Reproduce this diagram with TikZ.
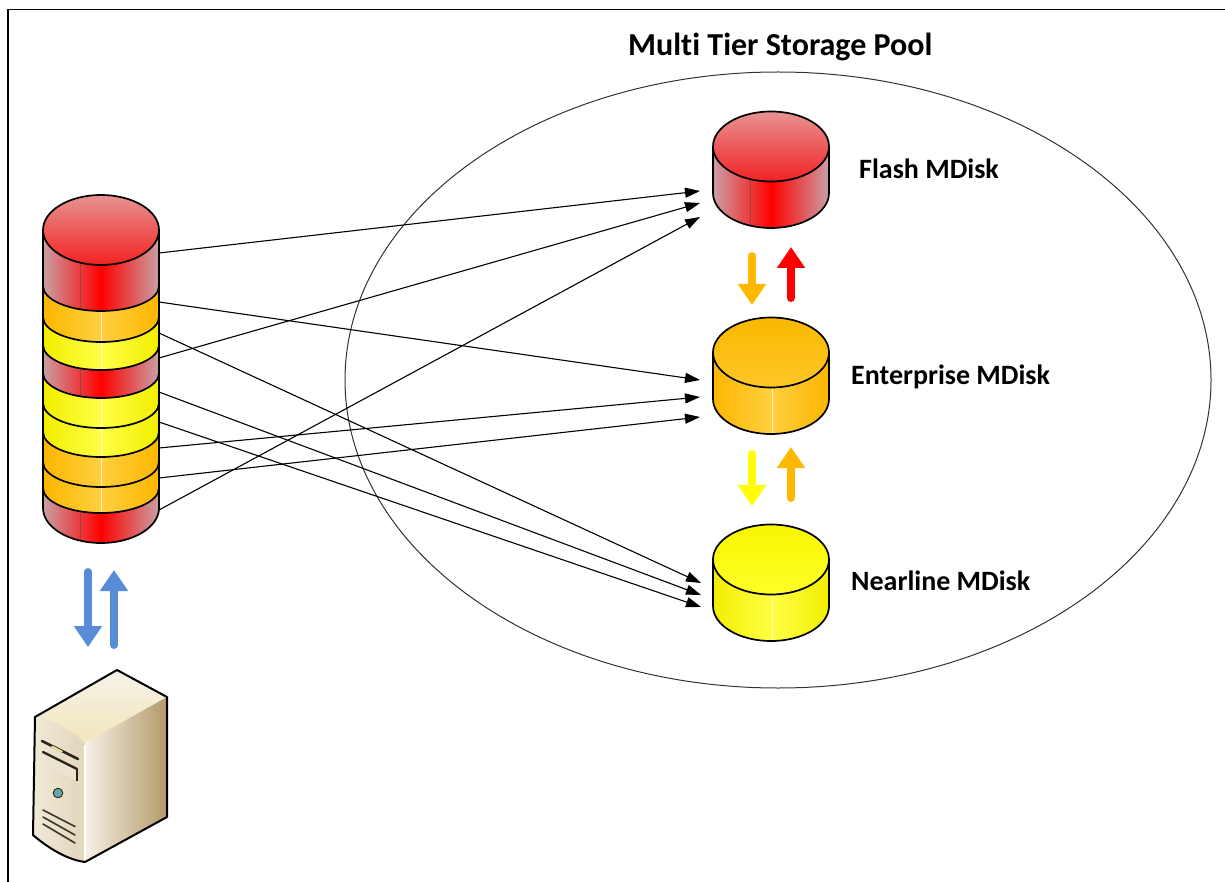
\documentclass[tikz,border=0pt]{standalone}
\usepackage{fontspec}
\setmainfont{Carlito}[Ligatures=NoCommon]
\usetikzlibrary{arrows.meta,shapes.geometric}

% disk colours
\definecolor{redEdge}{RGB}{201,160,165}
\definecolor{redMid}{RGB}{255,0,0}
\definecolor{redTopA}{RGB}{232,146,146}
\definecolor{redTopB}{RGB}{242,34,34}
\definecolor{redLine}{RGB}{150,60,60}
\definecolor{orEdge}{RGB}{252,182,0}
\definecolor{orMid}{RGB}{255,208,64}
\definecolor{orTopA}{RGB}{250,184,0}
\definecolor{orTopB}{RGB}{253,198,40}
\definecolor{yeEdge}{RGB}{242,238,0}
\definecolor{yeMid}{RGB}{255,255,70}
\definecolor{yeTopA}{RGB}{248,246,0}
\definecolor{yeTopB}{RGB}{255,255,40}
% arrows
\definecolor{flowBlue}{RGB}{88,140,214}
\definecolor{flowOrange}{RGB}{255,184,0}
\definecolor{flowRed}{RGB}{255,0,0}
\definecolor{flowYellow}{RGB}{255,255,0}
% server
\definecolor{srvTopA}{RGB}{246,242,234}
\definecolor{srvTopB}{RGB}{242,230,186}
\definecolor{srvFrontA}{RGB}{240,233,216}
\definecolor{srvFrontB}{RGB}{226,214,186}
\definecolor{srvSideA}{RGB}{247,241,229}
\definecolor{srvSideB}{RGB}{178,154,106}
\definecolor{slotDark}{RGB}{40,36,30}
\definecolor{slotLight}{RGB}{236,228,206}
\definecolor{slotHi}{RGB}{245,236,150}
\definecolor{buttonTeal}{RGB}{96,170,172}
\definecolor{ventDark}{RGB}{60,54,44}
\definecolor{poolLine}{RGB}{50,50,50}

\begin{document}
\begin{tikzpicture}[x=1pt,y=-1pt,
  outline/.style={draw=black,line width=1.7pt,line join=round},
  lbl/.style={font=\bfseries\fontsize{28}{32}\selectfont,inner sep=0pt,anchor=base west},
  link/.style={line width=1.1pt,-{Triangle[length=15pt,width=10pt]}},
  flow/.style={line width=8pt,line cap=round,-{Triangle[length=21pt,width=27pt]}}]
\useasboundingbox (0,0) rectangle (1225,882);

% frame
\draw[line width=1.3pt] (8,882) -- (8,9.5) -- (1225,9.5);

% storage pool
\node (pool) [draw=poolLine,line width=1pt,ellipse,minimum width=866pt,minimum height=616pt,inner sep=0pt] at (778,380) {};
\node (title) [lbl,font=\bfseries\fontsize{32}{36}\selectfont] at (628,55.5) {Multi Tier Storage Pool};

% ---- volume stack (bands painted top to bottom, each reaching the base)
\foreach \yt/\ce/\cm/\lx/\lc in {
  230/redEdge/redMid/80/redLine,
  286/orEdge/orMid/101/white,
  317/yeEdge/yeMid/101/white,
  345/redEdge/redMid/80/redLine,
  373/yeEdge/yeMid/101/white,
  403/yeEdge/yeMid/101/white,
  432/orEdge/orMid/101/white,
  462/orEdge/orMid/101/white,
  488/redEdge/redMid/80/redLine}
{
  \begin{scope}
    \clip (43,\yt) arc[start angle=180,end angle=360,x radius=58pt,y radius=25pt]
      -- (159,508) arc[start angle=0,end angle=-180,x radius=58pt,y radius=35pt] -- cycle;
    \shade[left color=\ce,right color=\ce,middle color=\cm] (43,\yt-40) rectangle (159,560);
    \draw[color=\lc,line width=0.8pt,opacity=0.7] (\lx,\yt-40) -- (\lx,560);
  \end{scope}
}
\foreach \yt in {286,317,345,373,403,432,462,488}
  \draw[outline] (43,\yt) arc[start angle=180,end angle=360,x radius=58pt,y radius=25pt];
\draw[outline] (43,230) -- (43,508) arc[start angle=180,end angle=360,x radius=58pt,y radius=35pt] -- (159,230);
\shade[top color=redTopA,bottom color=redTopB] (101,230) ellipse [x radius=58pt,y radius=35pt];
\draw[outline] (101,230) ellipse [x radius=58pt,y radius=35pt];

% ---- tier disks
\foreach \cy/\se/\sm/\ta/\tb/\lx/\lc in {
  146.5/redEdge/redMid/redTopA/redTopB/750/redLine,
  352.5/orEdge/orMid/orTopA/orTopB/772/white,
  559.5/yeEdge/yeMid/yeTopA/yeTopB/772/white}
{
  \begin{scope}
    \clip (713,\cy) -- (713,\cy+46.5) arc[start angle=180,end angle=360,x radius=58pt,y radius=35pt] -- (829,\cy) -- cycle;
    \shade[left color=\se,right color=\se,middle color=\sm] (713,\cy-40) rectangle (829,\cy+90);
    \draw[color=\lc,line width=0.8pt,opacity=0.7] (\lx,\cy) -- (\lx,\cy+90);
  \end{scope}
  \draw[outline] (713,\cy) -- (713,\cy+46.5) arc[start angle=180,end angle=360,x radius=58pt,y radius=35pt] -- (829,\cy);
  \shade[top color=\ta,bottom color=\tb] (771,\cy) ellipse [x radius=58pt,y radius=35pt];
  \draw[outline] (771,\cy) ellipse [x radius=58pt,y radius=35pt];
}

\node (lflash) [lbl] at (859,178.5) {Flash MDisk};
\node (lent)   [lbl] at (851,384)   {Enterprise MDisk};
\node (lnear)  [lbl] at (851,590.5) {Nearline MDisk};

% ---- ports
\coordinate (s1) at (159,253);
\coordinate (s2) at (159,302);
\coordinate (s3) at (159,333);
\coordinate (s4) at (159,358);
\coordinate (s5) at (159,392);
\coordinate (s6) at (159,422);
\coordinate (s7) at (159,448);
\coordinate (s8) at (159,478);
\coordinate (s9) at (159,510);
\coordinate (f1) at (700,191);
\coordinate (f2) at (700,203);
\coordinate (f3) at (700,217);
\coordinate (e1) at (700,380);
\coordinate (e2) at (700,397);
\coordinate (e3) at (700,417);
\coordinate (n1) at (701,583);
\coordinate (n2) at (701,595);
\coordinate (n3) at (701,607);

\draw[link] (s1) -- (f1);
\draw[link] (s4) -- (f2);
\draw[link] (s9) -- (f3);
\draw[link] (s2) -- (e1);
\draw[link] (s7) -- (e2);
\draw[link] (s8) -- (e3);
\draw[link] (s3) -- (n1);
\draw[link] (s5) -- (n2);
\draw[link] (s6) -- (n3);

% ---- migration arrows between tiers
\coordinate (fe1) at (752,256); \coordinate (fe2) at (752,305);
\coordinate (ef1) at (791,298); \coordinate (ef2) at (791,247);
\coordinate (en1) at (752,454); \coordinate (en2) at (752,506);
\coordinate (ne1) at (791,498); \coordinate (ne2) at (791,447);
\draw[flow,color=flowOrange] (fe1) -- (fe2);
\draw[flow,color=flowRed] (ef1) -- (ef2);
\draw[flow,color=flowYellow] (en1) -- (en2);
\draw[flow,color=flowOrange] (ne1) -- (ne2);

% ---- host I/O
\coordinate (io1) at (88,572);  \coordinate (io2) at (88,647);
\coordinate (io3) at (114,645); \coordinate (io4) at (114,570);
\draw[flow,color=flowBlue] (io1) -- (io2);
\draw[flow,color=flowBlue] (io3) -- (io4);

% ---- server
\shade[top color=srvTopA,bottom color=srvTopB]
  (35,717) -- (117,670) -- (167,697) -- (85,743) .. controls (70,728) and (52,719) .. (35,717) -- cycle;
\shade[left color=srvFrontA,right color=srvFrontB]
  (35,717) .. controls (52,719) and (70,728) .. (85,743) -- (85,862)
  .. controls (68,860) and (48,848) .. (33,835) -- cycle;
\shade[left color=srvSideA,right color=srvSideB]
  (85,743) -- (167,697) -- (167,817) -- (85,862) -- cycle;
\draw[white,line width=1.2pt] (85,745) -- (85,860);
% drive bays
\draw[slotDark,line width=2.6pt,line cap=round] (42,741) -- (78,759);
\draw[slotHi,line width=1.6pt,line cap=round] (52,746.5) -- (62,751.5);
\fill[slotLight] (44,754) -- (76,770) -- (76,780) -- (44,764) -- cycle;
\draw[slotDark,line width=2.4pt,line cap=round] (43,752) -- (77,769);
\draw[slotDark,line width=1.4pt] (77,769) -- (77,781);
% power button
\filldraw[fill=buttonTeal,draw=slotDark,line width=0.9pt] (58,793) circle [radius=4.8pt];
% vents
\draw[ventDark,line width=1.6pt,line cap=round] (43,810) -- (75,826.5);
\draw[ventDark,line width=1.6pt,line cap=round] (43,817) -- (75,835);
\draw[ventDark,line width=1.6pt,line cap=round] (43,824) -- (75,843);
\draw[outline,line width=2pt] (35,717) -- (117,670) -- (167,697) -- (167,817) -- (85,862)
  .. controls (68,860) and (48,848) .. (33,835) -- cycle;
\coordinate (server) at (100,766);
\end{tikzpicture}
\end{document}
